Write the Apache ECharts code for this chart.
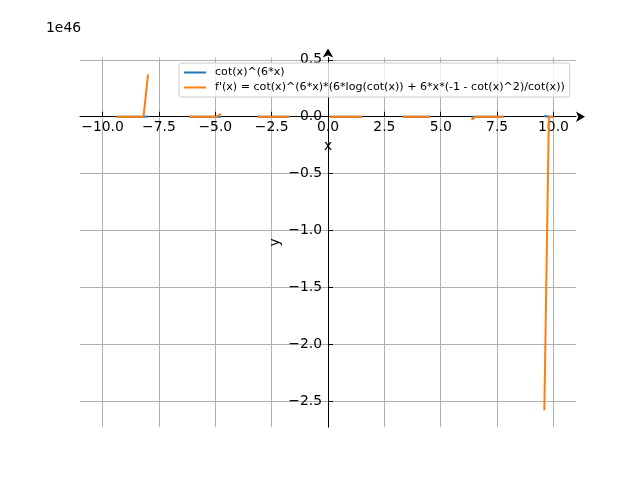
<!DOCTYPE html>
<html>
<head>
<meta charset="utf-8">
<script src="https://cdn.jsdelivr.net/npm/echarts@6/dist/echarts.min.js"></script>
<style>
  html, body { margin: 0; padding: 0; background: #fff; }
  #chart { width: 640px; height: 480px; }
</style>
</head>
<body>
<div id="chart"></div>
<script>
// sample x positions, null = function undefined there (gap)
var xValues = [
    -9.394, -9.192, -8.990, -8.788, -8.586, -8.384, -8.182, -7.980, null,
    -6.162, -5.960, -5.758, -5.556, -5.354, -5.152, -4.949, -4.747, null,
    -3.131, -2.929, -2.727, -2.525, -2.323, -2.121, -1.919, -1.717, null,
    0.101, 0.303, 0.505, 0.707, 0.909, 1.111, 1.313, 1.515, null,
    3.333, 3.535, 3.737, 3.939, 4.141, 4.343, 4.545, null,
    6.364, 6.566, 6.768, 6.970, 7.172, 7.374, 7.576, 7.778, null,
    9.596, 9.798, 10.0
];
// values in units of 1e46
var fValues = [
    0, 0, 0, 0, 0, 0, 0, 0.001, null,
    0, 0, 0, 0, 0, 0, 0, 0, null,
    0, 0, 0, 0, 0, 0, 0, 0, null,
    0, 0, 0, 0, 0, 0, 0, 0, null,
    0, 0, 0, 0, 0, 0, 0, null,
    0, 0, 0, 0, 0, 0, 0, 0, null,
    0.007, 0, 0
];
var dfValues = [
    0, 0, 0, 0, 0, 0, 0, 0.373, null,
    0, 0, 0, 0, 0, 0, 0, 0.026, null,
    0, 0, 0, 0, 0, 0, 0, 0, null,
    0, 0, 0, 0, 0, 0, 0, 0, null,
    0, 0, 0, 0, 0, 0, 0, null,
    -0.025, 0, 0, 0, 0, 0, 0, 0, null,
    -2.58, 0, 0
];
var xTicks = [-10, -7.5, -5, -2.5, 0, 2.5, 5, 7.5, 10];
var yTicks = [0.5, 0, -0.5, -1, -1.5, -2, -2.5];
var seriesNames = ['cot(x)^(6*x)', "f'(x) = cot(x)^(6*x)*(6*log(cot(x)) + 6*x*(-1 - cot(x)^2)/cot(x))"];

var X_MIN = -11, X_MAX = 11, Y_MIN = -2.73, Y_MAX = 0.52;
var GRID = { left: 80, right: 64, top: 57.6, bottom: 52.8 };

function pairs(ys) {
    let out = [];
    for (let i = 0; i < xValues.length; i++) {
        if (xValues[i] === null || ys[i] === null) {
            out.push(['-', '-']);
        } else {
            out.push([xValues[i], ys[i]]);
        }
    }
    return out;
}

function fmt(v) {
    let s = v.toFixed(1);
    return v < 0 ? '\u2212' + s.slice(1) : s;
}

var FONT = 'DejaVu Sans';
var chart = echarts.init(document.getElementById('chart'));

// move the axes so that they cross at (0, 0), like centred spines
var plotW = 640 - GRID.left - GRID.right,
    plotH = 480 - GRID.top - GRID.bottom;
var xAxisOffset = -(plotH * (0 - Y_MIN) / (Y_MAX - Y_MIN));
var yAxisOffset = -(plotW * (0 - X_MIN) / (X_MAX - X_MIN));

var option = {
    animation: false,
    textStyle: { fontFamily: FONT },
    grid: { left: GRID.left, right: GRID.right, top: GRID.top, bottom: GRID.bottom, containLabel: false },
    legend: {
        orient: 'vertical',
        left: 179,
        top: 63,
        padding: [4, 5, 4, 4],
        itemWidth: 22,
        itemHeight: 11,
        itemGap: 4,
        borderColor: '#cccccc',
        borderWidth: 1,
        borderRadius: 3,
        backgroundColor: 'rgba(255,255,255,0.8)',
        itemStyle: { opacity: 0 },
        lineStyle: { width: 2, opacity: 1 },
        textStyle: { fontFamily: FONT, fontSize: 11.1, color: '#000', padding: [0, 0, 0, 4] },
        data: seriesNames
    },
    graphic: [{
        type: 'text',
        left: 46,
        top: 21,
        style: { text: '1e46', font: '13.9px "DejaVu Sans"', fill: '#000' }
    }],
    xAxis: {
        type: 'value',
        min: X_MIN,
        max: X_MAX,
        offset: xAxisOffset,
        name: 'x',
        nameLocation: 'middle',
        nameGap: 22,
        nameTextStyle: { fontFamily: FONT, fontSize: 13.9, color: '#000' },
        axisLine: {
            onZero: false,
            symbol: ['none', 'arrow'],
            symbolSize: [8, 9],
            symbolOffset: [0, 9],
            lineStyle: { color: '#000', width: 1 }
        },
        axisTick: { show: true, inside: true, length: 5, customValues: xTicks, lineStyle: { color: '#000' } },
        axisLabel: {
            customValues: xTicks,
            margin: 4,
            fontFamily: FONT,
            fontSize: 13.9,
            color: '#000',
            formatter: function (v) { return fmt(v); }
        },
        splitLine: { show: true, lineStyle: { color: '#b0b0b0', width: 1 } }
    },
    yAxis: {
        type: 'value',
        min: Y_MIN,
        max: Y_MAX,
        offset: yAxisOffset,
        name: 'y',
        nameLocation: 'middle',
        nameRotate: 90,
        nameGap: 46,
        nameMoveOverlap: false,
        nameTextStyle: { fontFamily: FONT, fontSize: 13.9, color: '#000' },
        axisLine: {
            onZero: false,
            symbol: ['none', 'arrow'],
            symbolSize: [8, 9],
            symbolOffset: [0, 9],
            lineStyle: { color: '#000', width: 1 }
        },
        axisTick: { show: true, inside: true, length: 5, customValues: yTicks, lineStyle: { color: '#000' } },
        axisLabel: {
            customValues: yTicks,
            margin: 6,
            fontFamily: FONT,
            fontSize: 13.9,
            color: '#000',
            formatter: function (v) { return fmt(v); }
        },
        splitLine: { show: true, lineStyle: { color: '#b0b0b0', width: 1 } }
    },
    series: [{
        name: seriesNames[0],
        type: 'line',
        symbol: 'none',
        connectNulls: false,
        color: '#1f77b4',
        lineStyle: { width: 2 },
        data: pairs(fValues)
    }, {
        name: seriesNames[1],
        type: 'line',
        symbol: 'none',
        connectNulls: false,
        color: '#ff7f0e',
        lineStyle: { width: 2 },
        data: pairs(dfValues)
    }]
};
chart.setOption(option);
</script>
</body>
</html>
